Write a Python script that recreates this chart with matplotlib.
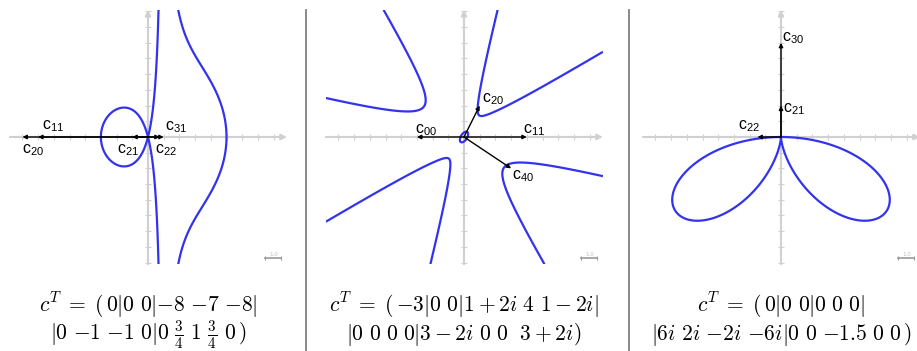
import math
import numpy as np
import matplotlib
matplotlib.use("Agg")
import matplotlib.pyplot as plt
from matplotlib.lines import Line2D

# coefficient rows c_j0 ... c_jj for j = 0..4
coef_a = [[0], [0, 0], [-8, -7, -8], [0, -1, -1, 0], [0, 0.75, 1, 0.75, 0]]
coef_b = [[-3], [0, 0], [1 + 2j, 4, 1 - 2j], [0, 0, 0, 0], [3 - 2j, 0, 0, 0, 3 + 2j]]
coef_c = [[0], [0, 0], [0, 0, 0], [6j, 2j, -2j, -6j], [0, 0, -1.5, 0, 0]]

caption_a = [r"$c^T \;=\; (\, 0 | 0\ 0 | {-8}\ {-7}\ {-8} |$",
             r"$| 0\ {-1}\ {-1}\ 0 | 0\ \frac{3}{4}\ 1\ \frac{3}{4}\ 0 \,)$"]
caption_b = [r"$c^T \;=\; (\, {-3} | 0\ 0 | 1+2i\ 4\ 1-2i |$",
             r"$| 0\ 0\ 0\ 0 | 3-2i\ 0\ 0\ \ 3+2i )$"]
caption_c = [r"$c^T \;=\; (\, 0 | 0\ 0 | 0\ 0\ 0 |$",
             r"$| 6i\ 2i\ {-2i}\ {-6i} | 0\ 0\ {-1.5}\ 0\ 0 \,)$"]

# label offsets (pixels) from the arrow tips
label_off_a = {"20": (0, -13), "11": (4, 11), "21": (-15, -13), "22": (-9, -13), "31": (5, 10)}
label_off_b = {"00": (-2, 7), "20": (2, 6), "11": (-4, 7), "40": (1, -8)}
label_off_c = {"30": (1, 5), "21": (2, -4), "22": (-19, 11)}

panels = [(coef_a, caption_a, label_off_a),
          (coef_b, caption_b, label_off_b),
          (coef_c, caption_c, label_off_c)]

W, H = 917, 351
unit = 15.7
origin_x = [148, 464, 781]
origin_y = 137
xlim = (-8.8, 8.85)
ylim = (-8.1, 8.1)

fig = plt.figure(figsize=(W / 100, H / 100), dpi=100)
axis_col = "#d0d0d0"
curve_col = "#3333ee"

xs = np.linspace(xlim[0], xlim[1], 900)
ys = np.linspace(ylim[0], ylim[1], 900)
X, Y = np.meshgrid(xs, ys)
Z = X + 1j * Y
Zb = np.conj(Z)

for (coef, caption, offs), ox in zip(panels, origin_x):
    left = (ox + xlim[0] * unit) / W
    bottom = (H - (origin_y - ylim[0] * unit)) / H
    ax = fig.add_axes([left, bottom, (xlim[1] - xlim[0]) * unit / W,
                       (ylim[1] - ylim[0]) * unit / H])
    ax.set_xlim(*xlim)
    ax.set_ylim(*ylim)
    ax.axis("off")

    # coordinate axes with unit ticks
    ax.annotate("", xy=(xlim[1], 0), xytext=(xlim[0], 0),
                arrowprops=dict(arrowstyle="-|>", color=axis_col, lw=1.5,
                                mutation_scale=8, shrinkA=0, shrinkB=0), zorder=1)
    ax.annotate("", xy=(0, ylim[1]), xytext=(0, ylim[0]),
                arrowprops=dict(arrowstyle="-|>", color=axis_col, lw=1.5,
                                mutation_scale=8, shrinkA=0, shrinkB=0), zorder=1)
    tk = [t for t in range(-8, 9) if t != 0]
    ax.plot(tk, [0] * len(tk), ls="", marker="|", ms=4, mew=0.8, color=axis_col, zorder=1)
    ax.plot([0] * len(tk), tk, ls="", marker="_", ms=4, mew=0.8, color=axis_col, zorder=1)

    # scale bar
    ax.plot([7.45, 8.5], [-7.7, -7.7], color="#9a9a9a", lw=1.2, zorder=1)
    ax.plot([7.45, 8.5], [-7.7, -7.7], ls="", marker="|", ms=3, mew=0.8, color="#9a9a9a")
    ax.text(7.98, -7.62, "1.0", fontsize=4, color="#c0c0c0", ha="center", va="bottom")

    # curve: sum of multinomial-weighted c_jk z^(j-k) conj(z)^k = 0
    F = np.zeros_like(X)
    for j, row in enumerate(coef):
        for k, c in enumerate(row):
            if c == 0:
                continue
            w = math.comb(4, j) * math.comb(j, k)
            F = F + (w * c * Z ** (j - k) * Zb ** k).real
    ax.contour(X, Y, F, levels=[0], colors=curve_col, linewidths=1.6, zorder=2)

    # coefficient vectors
    for j, row in enumerate(coef):
        for k, c in enumerate(row):
            a = j - k
            if c == 0 or a < k:
                continue
            c = complex(c)
            ax.annotate("", xy=(c.real, c.imag), xytext=(0, 0),
                        arrowprops=dict(arrowstyle="-|>", color="black", lw=1.0,
                                        mutation_scale=6, shrinkA=0, shrinkB=0),
                        zorder=3)
            key = f"{a}{k}"
            ax.annotate(r"c$_{\mathregular{%s}}$" % key, xy=(c.real, c.imag),
                        xytext=offs[key], textcoords="offset pixels",
                        ha="left", va="center", fontsize=11.5,
                        family="Liberation Sans", zorder=4)

    fig.text(ox / W, 1 - 305 / H, caption[0], ha="center", va="center",
             fontsize=15.5, math_fontfamily="cm")
    fig.text(ox / W, 1 - 335 / H, caption[1], ha="center", va="center",
             fontsize=15.5, math_fontfamily="cm")

# separators between panels
for xd in (306, 629):
    fig.add_artist(Line2D([xd / W, xd / W], [0, 1 - 10 / H], color="#808080", lw=1.3))

fig.savefig("out.png", dpi=100)
